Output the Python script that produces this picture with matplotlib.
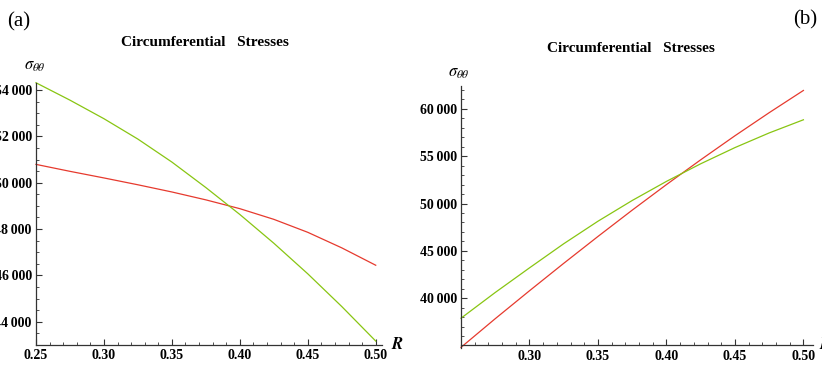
import matplotlib
matplotlib.use("Agg")
import matplotlib.pyplot as plt
from matplotlib.ticker import MultipleLocator, FuncFormatter

plt.rcParams['mathtext.fontset'] = 'stix'

# radius samples shared by both panels
radius = [0.25, 0.275, 0.30, 0.325, 0.35, 0.375, 0.40, 0.425, 0.45, 0.475, 0.50]

# panel (a): circumferential stress vs R
a_red = [50790, 50490, 50205, 49910, 49600, 49260, 48880, 48420, 47860, 47190, 46440]
a_green = [54310, 53560, 52760, 51880, 50890, 49790, 48630, 47390, 46070, 44660, 43170]

# panel (b)
b_red = [34800, 37830, 40780, 43680, 46520, 49300, 52000, 54620, 57160, 59600, 61950]
b_green = [37880, 40600, 43200, 45750, 48130, 50320, 52340, 54200, 55910, 57460, 58850]

a_yticks = [44000, 46000, 48000, 50000, 52000, 54000]
b_yticks = [40000, 45000, 50000, 55000, 60000]
a_xticks = [0.25, 0.30, 0.35, 0.40, 0.45, 0.50]
b_xticks = [0.30, 0.35, 0.40, 0.45, 0.50]

RED = '#e63a2e'
GREEN = '#88c512'
SERIF = ['Liberation Serif', 'DejaVu Serif']

W, H = 822, 367
fig = plt.figure(figsize=(W / 100, H / 100), dpi=100)


def frac(px, py):
    return px / W, 1 - py / H


def thousands(v, pos):
    s = f"{int(round(v)):d}"
    return s[:-3] + "\u2009" + s[-3:]


def style(ax, xticks, yticks, yminor, origin_y):
    for side in ('top', 'right'):
        ax.spines[side].set_visible(False)
    for side in ('left', 'bottom'):
        ax.spines[side].set_color('#333333')
        ax.spines[side].set_linewidth(0.9)
    ax.spines['bottom'].set_position(('data', origin_y))
    ax.set_xticks(xticks)
    ax.set_yticks(yticks)
    ax.xaxis.set_minor_locator(MultipleLocator(0.01))
    ax.yaxis.set_minor_locator(MultipleLocator(yminor))
    ax.xaxis.set_major_formatter(FuncFormatter(lambda v, p: f"{v:.2f}"))
    ax.yaxis.set_major_formatter(FuncFormatter(thousands))
    ax.tick_params(which='major', direction='in', length=4, width=0.8,
                   color='#333333', pad=3)
    ax.tick_params(which='minor', direction='in', length=2, width=0.6,
                   color='#333333')
    for lab in ax.get_xticklabels() + ax.get_yticklabels():
        lab.set_family(SERIF)
        lab.set_fontweight('bold')
        lab.set_fontsize(10)
    ax.patch.set_alpha(0)


# ---- panel (a)
l, b = frac(36, 345)
r, t = frac(381.7, 83)
ax1 = fig.add_axes([l, b, r - l, t - b])
ax1.plot(radius, a_red, color=RED, lw=0.9, clip_on=False)
ax1.plot(radius, a_green, color=GREEN, lw=0.9, clip_on=False)
ax1.set_xlim(0.25, 0.5044)
ax1.set_ylim(43000, 54300)
style(ax1, a_xticks, a_yticks, 500, 43000)

# ---- panel (b)
l, b = frac(461, 348.3)
r, t = frac(813, 86)
ax2 = fig.add_axes([l, b, r - l, t - b])
ax2.plot(radius, b_red, color=RED, lw=0.9, clip_on=False)
ax2.plot(radius, b_green, color=GREEN, lw=0.9, clip_on=False)
ax2.set_xlim(0.25, 0.507)
ax2.set_ylim(34700, 62420)
style(ax2, b_xticks, b_yticks, 1000, 35000)

# titles, axis labels and panel letters
title_kw = dict(family=SERIF, fontweight='bold', fontsize=11,
                ha='center', va='center')
fig.text(*frac(204.5, 42), "Circumferential   Stresses", **title_kw)
fig.text(*frac(631, 49), "Circumferential   Stresses", **title_kw)

fig.text(*frac(35, 65), r'$\sigma_{\theta\theta}$', fontsize=12,
         ha='center', va='center')
fig.text(*frac(459, 72), r'$\sigma_{\theta\theta}$', fontsize=12,
         ha='center', va='center')

fig.text(*frac(391, 344), r'$\boldsymbol{R}$', fontsize=12,
         ha='left', va='center')
fig.text(*frac(819, 344), r'$\boldsymbol{R}$', fontsize=12,
         ha='left', va='center')

fig.text(*frac(19, 22), "(a)", family=SERIF, fontsize=15,
         ha='center', va='center')
fig.text(*frac(805, 20), "(b)", family=SERIF, fontsize=15,
         ha='center', va='center')

fig.savefig("out.png", dpi=100, facecolor='white')
